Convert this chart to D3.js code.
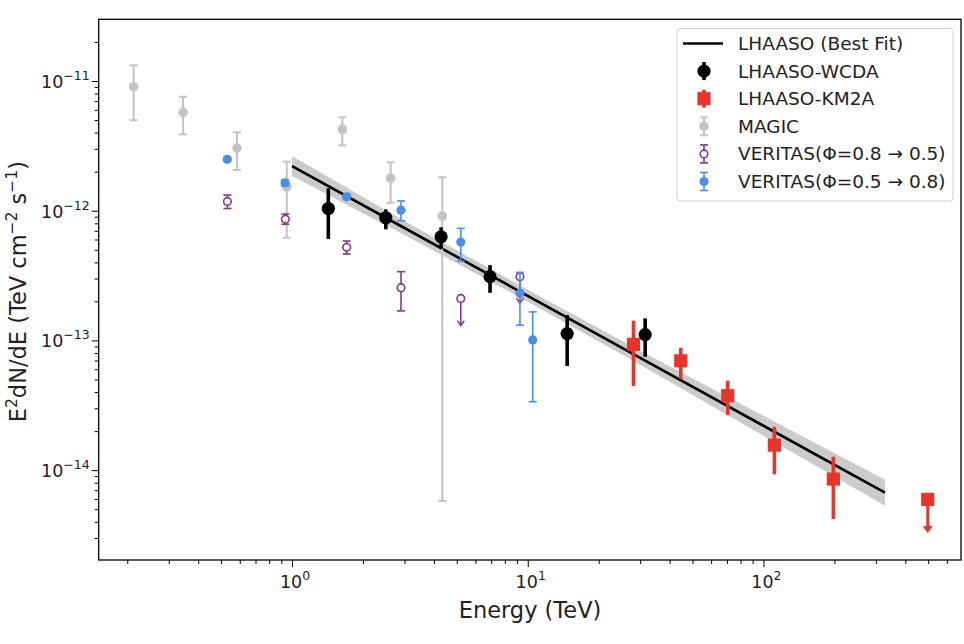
<!DOCTYPE html>
<html>
<head>
<meta charset="utf-8">
<script src="https://cdn.jsdelivr.net/npm/d3@7"></script>
<style>
  body { margin: 0; background: #fff; }
  svg { font-family: 'DejaVu Sans', sans-serif; }
</style>
</head>
<body>
<div id="chart"></div>
<script>
// data (E in TeV, E^2 dN/dE in TeV cm^-2 s^-1)
const magicE = [0.213, 0.345, 0.584, 0.95, 1.635, 2.62, 4.34]
const magicF = [9.04e-12, 5.74e-12, 3.04e-12, 1.53e-12, 4.24e-12, 1.78e-12, 9.1e-13]
const magicLo = [4.98e-12, 3.88e-12, 2.06e-12, 6.19e-13, 3.19e-12, 1.15e-12, 5.8e-15]
const magicHi = [1.32e-11, 7.57e-12, 4.02e-12, 2.39e-12, 5.25e-12, 2.36e-12, 1.81e-12]

const wcdaE = [1.426, 2.50, 4.29, 6.92, 14.7, 31.5]
const wcdaF = [1.04e-12, 8.83e-13, 6.3e-13, 3.1e-13, 1.13e-13, 1.11e-13]
const wcdaLo = [6.05e-13, 7.19e-13, 5.09e-13, 2.33e-13, 6.35e-14, 7.49e-14]
const wcdaHi = [1.49e-12, 1.025e-12, 7.45e-13, 3.81e-13, 1.57e-13, 1.48e-13]

const km2aE = [28.1, 44.6, 70.6, 111.3, 198]
const km2aF = [9.33e-14, 6.97e-14, 3.75e-14, 1.56e-14, 8.54e-15]
const km2aLo = [4.45e-14, 5.04e-14, 2.66e-14, 9.29e-15, 4.2e-15]
const km2aHi = [1.42e-13, 8.79e-14, 4.89e-14, 2.16e-14, 1.27e-14]
const km2aUlE = [498]
const km2aUlF = [5.95e-15]
const km2aUlTip = [3.31e-15]

// VERITAS (phi = 0.8 -> 0.5), open purple
const verAE = [0.532, 0.937, 1.706, 2.90]
const verAF = [1.18e-12, 8.58e-13, 5.22e-13, 2.55e-13]
const verALo = [1.04e-12, 7.86e-13, 4.64e-13, 1.69e-13]
const verAHi = [1.32e-12, 9.43e-13, 5.84e-13, 3.39e-13]
const verAUlE = [5.20, 9.27]
const verAUlF = [2.11e-13, 3.1e-13]
const verAUlTip = [1.30e-13, 1.94e-13]

// VERITAS (phi = 0.5 -> 0.8), filled blue
const verBE = [0.531, 0.934, 1.706, 2.90, 5.20, 9.27, 10.5]
const verBF = [2.49e-12, 1.64e-12, 1.28e-12, 1.01e-12, 5.74e-13, 2.31e-13, 1.01e-13]
const verBLo = [2.4e-12, 1.55e-12, 1.23e-12, 8.37e-13, 4.09e-13, 1.31e-13, 3.37e-14]
const verBHi = [2.58e-12, 1.73e-12, 1.33e-12, 1.19e-12, 7.31e-13, 3.35e-13, 1.66e-13]

// best fit and its band
const fitE = [1, 3, 10, 30, 100, 328]
const fitF = [2.21e-12, 7.36e-13, 2.21e-13, 7.35e-14, 2.2e-14, 6.7e-15]
const fitHi = [2.64e-12, 8.33e-13, 2.46e-13, 8.32e-14, 2.63e-14, 8.44e-15]
const fitLo = [1.85e-12, 6.50e-13, 1.99e-13, 6.49e-14, 1.84e-14, 5.32e-15]

const xMajor = [1, 10, 100]
const yMajor = [1e-11, 1e-12, 1e-13, 1e-14]
const xExp = ['0', '1', '2']
const yExp = ['−11', '−12', '−13', '−14']

const legendLabels = ['LHAASO (Best Fit)', 'LHAASO-WCDA', 'LHAASO-KM2A', 'MAGIC',
  'VERITAS(Φ=0.8 → 0.5)', 'VERITAS(Φ=0.5 → 0.8)']

const width = 964
const height = 644
const margin = { left: 98.7, right: 3, top: 19.3, bottom: 84 }

const gray = '#c3c3c3'
const red = '#e8352b'
const purple = '#85358f'
const blue = '#4a8fe6'

const svg = d3.select('#chart').append('svg')
  .attr('width', width)
  .attr('height', height)

const x = d3.scaleLog().domain([0.1513, 689]).range([margin.left, width - margin.right])
const y = d3.scaleLog().domain([2.03e-15, 2.99e-11]).range([height - margin.bottom, margin.top])

const zip = (...arrs) => arrs[0].map((_, i) => arrs.map(a => a[i]))

// minor ticks
const xMinor = []
for (const dec of [0.1, 1, 10, 100]) {
  for (let k = 2; k <= 9; k++) {
    const v = dec * k
    if (v > x.domain()[0] && v < x.domain()[1]) xMinor.push(v)
  }
}
const yMinor = []
for (const dec of [1e-15, 1e-14, 1e-13, 1e-12, 1e-11]) {
  for (let k = 2; k <= 9; k++) {
    const v = dec * k
    if (v > y.domain()[0] && v < y.domain()[1]) yMinor.push(v)
  }
}

// band + fit
const area = d3.area()
  .x(d => x(d[0]))
  .y0(d => y(d[1]))
  .y1(d => y(d[2]))
svg.append('path')
  .datum(zip(fitE, fitLo, fitHi))
  .attr('d', area)
  .attr('fill', '#cbcbcb')

svg.append('path')
  .datum(zip(fitE, fitF))
  .attr('d', d3.line().x(d => x(d[0])).y(d => y(d[1])))
  .attr('fill', 'none')
  .attr('stroke', '#000')
  .attr('stroke-width', 2.6)

// error bar helper
const errorBars = (E, lo, hi, color, w, cap) => {
  const g = svg.append('g')
  const rows = zip(E, lo, hi)
  g.selectAll('line.bar').data(rows).join('line')
    .attr('class', 'bar')
    .attr('x1', d => x(d[0])).attr('x2', d => x(d[0]))
    .attr('y1', d => y(d[1])).attr('y2', d => y(d[2]))
    .attr('stroke', color).attr('stroke-width', w)
  if (cap) {
    for (const k of [1, 2]) {
      g.selectAll('line.cap' + k).data(rows).join('line')
        .attr('class', 'cap' + k)
        .attr('x1', d => x(d[0]) - cap).attr('x2', d => x(d[0]) + cap)
        .attr('y1', d => y(d[k])).attr('y2', d => y(d[k]))
        .attr('stroke', color).attr('stroke-width', w)
    }
  }
  return g
}

const upperLimits = (E, F, tip, color, w, head, filled) => {
  const g = svg.append('g')
  const rows = zip(E, F, tip)
  g.selectAll('line').data(rows).join('line')
    .attr('x1', d => x(d[0])).attr('x2', d => x(d[0]))
    .attr('y1', d => y(d[1])).attr('y2', d => y(d[2]) - (filled ? head : 1))
    .attr('stroke', color).attr('stroke-width', w)
  g.selectAll('path').data(rows).join('path')
    .attr('d', d => {
      const cx = x(d[0])
      const ty = y(d[2])
      return `M${cx - head * 0.7},${ty - head} L${cx},${ty} L${cx + head * 0.7},${ty - head}` + (filled ? 'Z' : '')
    })
    .attr('fill', filled ? color : 'none')
    .attr('stroke', color).attr('stroke-width', filled ? 1 : w)
}

// MAGIC
errorBars(magicE, magicLo, magicHi, gray, 2, 4)
svg.append('g').selectAll('circle').data(zip(magicE, magicF)).join('circle')
  .attr('cx', d => x(d[0])).attr('cy', d => y(d[1])).attr('r', 4.8)
  .attr('fill', gray)

// VERITAS purple
errorBars(verAE, verALo, verAHi, purple, 1.6, 4)
upperLimits(verAUlE, verAUlF, verAUlTip, purple, 1.6, 5, false)
svg.append('g').selectAll('circle').data(zip(verAE.concat(verAUlE), verAF.concat(verAUlF))).join('circle')
  .attr('cx', d => x(d[0])).attr('cy', d => y(d[1])).attr('r', 3.8)
  .attr('fill', '#fff').attr('stroke', purple).attr('stroke-width', 1.6)

// VERITAS blue
errorBars(verBE, verBLo, verBHi, blue, 1.6, 4)
svg.append('g').selectAll('circle').data(zip(verBE, verBF)).join('circle')
  .attr('cx', d => x(d[0])).attr('cy', d => y(d[1])).attr('r', 4.6)
  .attr('fill', blue)

// WCDA
errorBars(wcdaE, wcdaLo, wcdaHi, '#000', 3.6, 0)
svg.append('g').selectAll('circle').data(zip(wcdaE, wcdaF)).join('circle')
  .attr('cx', d => x(d[0])).attr('cy', d => y(d[1])).attr('r', 6.6)
  .attr('fill', '#000')

// KM2A
errorBars(km2aE, km2aLo, km2aHi, red, 3.6, 0)
upperLimits(km2aUlE, km2aUlF, km2aUlTip, red, 3, 6, true)
svg.append('g').selectAll('rect').data(zip(km2aE.concat(km2aUlE), km2aF.concat(km2aUlF))).join('rect')
  .attr('x', d => x(d[0]) - 6.6).attr('y', d => y(d[1]) - 6.6)
  .attr('width', 13.2).attr('height', 13.2)
  .attr('fill', red)

// axes
const axisColor = '#000'
const xAxisMinor = svg.append('g')
  .attr('transform', `translate(0,${height - margin.bottom})`)
  .call(d3.axisBottom(x).tickValues(xMinor).tickSize(4).tickFormat(''))
const xAxis = svg.append('g')
  .attr('transform', `translate(0,${height - margin.bottom})`)
  .call(d3.axisBottom(x).tickValues(xMajor).tickSize(7).tickFormat(''))
const yAxisMinor = svg.append('g')
  .attr('transform', `translate(${margin.left},0)`)
  .call(d3.axisLeft(y).tickValues(yMinor).tickSize(4).tickFormat(''))
const yAxis = svg.append('g')
  .attr('transform', `translate(${margin.left},0)`)
  .call(d3.axisLeft(y).tickValues(yMajor).tickSize(7).tickFormat(''))

for (const g of [xAxisMinor, xAxis, yAxisMinor, yAxis]) {
  g.select('.domain').remove()
  g.selectAll('line').attr('stroke', axisColor).attr('stroke-width', 1)
}

// frame
svg.append('rect')
  .attr('x', margin.left).attr('y', margin.top)
  .attr('width', width - margin.right - margin.left)
  .attr('height', height - margin.bottom - margin.top)
  .attr('fill', 'none').attr('stroke', '#000').attr('stroke-width', 1.3)

// tick labels with superscripts
const supLabel = (sel, exp) => {
  sel.append('tspan').text('10')
  sel.append('tspan').text(exp).attr('font-size', 12.5).attr('dy', -8)
}
svg.append('g').selectAll('text').data(zip(xMajor, xExp)).join('text')
  .attr('x', d => x(d[0]) + 3).attr('y', height - margin.bottom + 28)
  .attr('text-anchor', 'middle').attr('font-size', 17.5).attr('fill', '#222')
  .each(function (d) { supLabel(d3.select(this), d[1]) })
svg.append('g').selectAll('text').data(zip(yMajor, yExp)).join('text')
  .attr('x', margin.left - 9).attr('y', d => y(d[0]) + 7)
  .attr('text-anchor', 'end').attr('font-size', 17.5).attr('fill', '#222')
  .each(function (d) { supLabel(d3.select(this), d[1]) })

// axis titles
svg.append('text')
  .attr('x', 530).attr('y', 618)
  .attr('text-anchor', 'middle').attr('font-size', 22.5).attr('fill', '#222')
  .text('Energy (TeV)')

const yTitle = svg.append('text')
  .attr('transform', `translate(26,${(margin.top + height - margin.bottom) / 2 + 2}) rotate(-90)`)
  .attr('text-anchor', 'middle').attr('font-size', 22.5).attr('fill', '#222')
yTitle.append('tspan').text('E')
yTitle.append('tspan').text('2').attr('font-size', 15.5).attr('dy', -9)
yTitle.append('tspan').text('dN/dE (TeV cm').attr('dy', 9)
yTitle.append('tspan').text('−2').attr('font-size', 15.5).attr('dy', -9)
yTitle.append('tspan').text(' s').attr('dy', 9)
yTitle.append('tspan').text('−1').attr('font-size', 15.5).attr('dy', -9)
yTitle.append('tspan').text(')').attr('dy', 9)

// legend
const lg = svg.append('g').attr('transform', 'translate(677,28.5)')
lg.append('rect')
  .attr('width', 276).attr('height', 172.5).attr('rx', 3)
  .attr('fill', '#fff').attr('fill-opacity', 0.85)
  .attr('stroke', '#d0d0d0').attr('stroke-width', 1)
const rowY = i => 15 + i * 27.6
lg.selectAll('text').data(legendLabels).join('text')
  .attr('x', 61).attr('y', (d, i) => rowY(i) + 6.5)
  .attr('font-size', 18.5).attr('fill', '#222')
  .text(d => d)
const mx = 27
lg.append('line').attr('x1', 6).attr('x2', 46).attr('y1', rowY(0)).attr('y2', rowY(0))
  .attr('stroke', '#000').attr('stroke-width', 2.6)
lg.append('line').attr('x1', mx).attr('x2', mx).attr('y1', rowY(1) - 9).attr('y2', rowY(1) + 9)
  .attr('stroke', '#000').attr('stroke-width', 3.6)
lg.append('circle').attr('cx', mx).attr('cy', rowY(1)).attr('r', 6.6).attr('fill', '#000')
lg.append('line').attr('x1', mx).attr('x2', mx).attr('y1', rowY(2) - 9).attr('y2', rowY(2) + 9)
  .attr('stroke', red).attr('stroke-width', 3.6)
lg.append('rect').attr('x', mx - 6.6).attr('y', rowY(2) - 6.6).attr('width', 13.2).attr('height', 13.2).attr('fill', red)
const capped = (i, color, w) => {
  lg.append('line').attr('x1', mx).attr('x2', mx).attr('y1', rowY(i) - 9).attr('y2', rowY(i) + 9)
    .attr('stroke', color).attr('stroke-width', w)
  for (const s of [-9, 9]) {
    lg.append('line').attr('x1', mx - 4).attr('x2', mx + 4).attr('y1', rowY(i) + s).attr('y2', rowY(i) + s)
      .attr('stroke', color).attr('stroke-width', w)
  }
}
capped(3, gray, 2)
lg.append('circle').attr('cx', mx).attr('cy', rowY(3)).attr('r', 4.8).attr('fill', gray)
capped(4, purple, 1.6)
lg.append('circle').attr('cx', mx).attr('cy', rowY(4)).attr('r', 3.8)
  .attr('fill', '#fff').attr('stroke', purple).attr('stroke-width', 1.6)
capped(5, blue, 1.6)
lg.append('circle').attr('cx', mx).attr('cy', rowY(5)).attr('r', 4.6).attr('fill', blue)
</script>
</body>
</html>
